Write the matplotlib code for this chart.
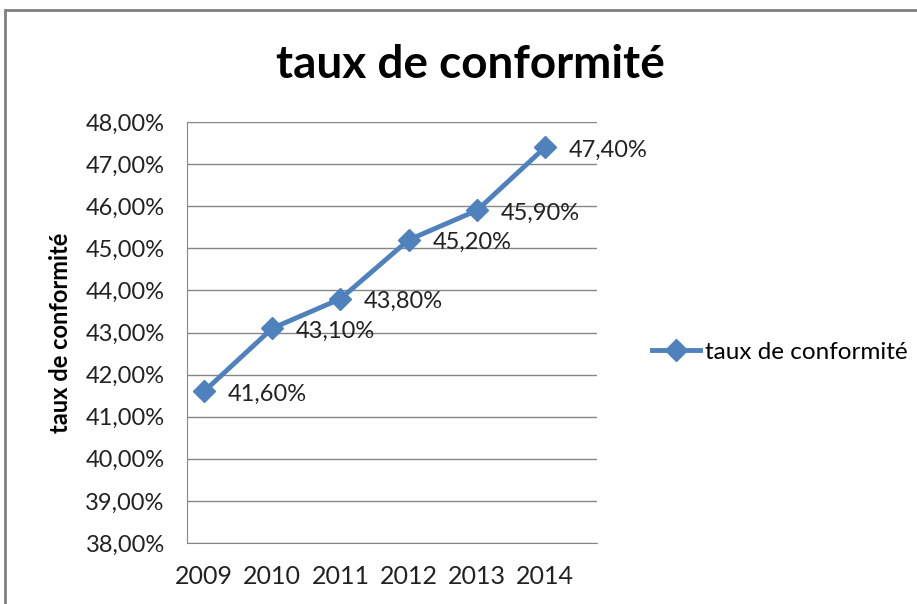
import matplotlib
matplotlib.use("Agg")
import matplotlib.pyplot as plt
from matplotlib.patches import Rectangle
from matplotlib.ticker import FuncFormatter

# Data
years = ["2009", "2010", "2011", "2012", "2013", "2014"]
taux = [41.6, 43.1, 43.8, 45.2, 45.9, 47.4]
label = "taux de conformité"

plt.rcParams['font.family'] = ['Lato', 'DejaVu Sans']

fig = plt.figure(figsize=(9.17, 6.04), dpi=100)
ax = fig.add_axes([187/917, 1 - 543/604, 410/917, 421/604])

blue = '#4F81BD'
x = list(range(len(years)))
ax.plot(x, taux, color=blue, lw=3.5, marker='D', markersize=11,
        label=label)

# data labels right of each point
for xi, yi in zip(x, taux):
    ax.annotate(f"{yi:.2f}%".replace('.', ','), (xi, yi),
                xytext=(17, -2), textcoords='offset points',
                ha='left', va='center', fontsize=17, color='#222222')

ax.set_ylim(38, 48)
ax.set_yticks(range(38, 49))
ax.yaxis.set_major_formatter(FuncFormatter(lambda v, p: f"{v:.2f}%".replace('.', ',')))
ax.set_xlim(-0.25, 5.76)
ax.set_xticks(x)
ax.set_xticklabels(years)
ax.tick_params(axis='both', length=0, labelsize=17, colors='#222222')
ax.tick_params(axis='x', labelsize=18)
ax.tick_params(axis='y', pad=16)
ax.tick_params(axis='x', pad=16)

ax.grid(axis='y', color='#868686', lw=1)
ax.set_axisbelow(True)
for s in ['top', 'right']:
    ax.spines[s].set_visible(False)
for s in ['left', 'bottom']:
    ax.spines[s].set_color('#868686')

ax.set_ylabel(label, fontsize=17, fontweight='bold', labelpad=10)

fig.text(470/917, 1 - 65/604, label, fontsize=33, fontweight='bold',
         ha='center', va='center')

ax.legend(loc='center left', bbox_to_anchor=(630/917, 1 - 352/604),
          bbox_transform=fig.transFigure, frameon=False, fontsize=17.5,
          handlelength=2.0, handletextpad=0.2)

# chart frame
fig.patches.append(Rectangle((5/917, -0.05), 1.0, 1 - 10/604 + 0.05,
                             transform=fig.transFigure, fill=False,
                             edgecolor='#7F7F7F', lw=2, clip_on=False))

fig.savefig('out.png', dpi=100)
